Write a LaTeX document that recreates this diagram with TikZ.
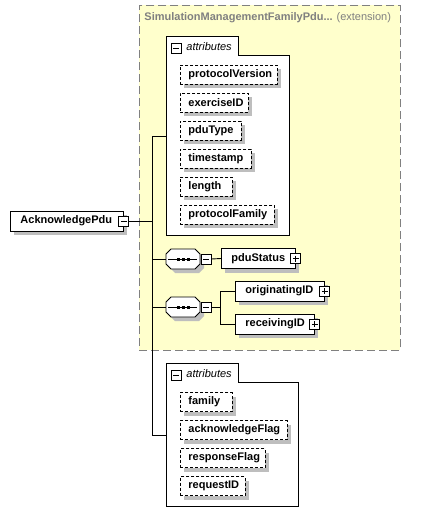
\documentclass[tikz,border=0pt]{standalone}
\usepackage{fontspec}
\setmainfont{Liberation Sans}
\usetikzlibrary{shadows}

\definecolor{extfill}{RGB}{255,255,204}
\definecolor{extline}{RGB}{128,128,128}
\definecolor{shadowgray}{RGB}{190,190,190}

\tikzset{
  boxshadow/.style={drop shadow={shadow xshift=4pt,shadow yshift=-4pt,fill=shadowgray,opacity=1}},
  elembox/.style={draw, fill=white, boxshadow, font=\fontsize{11}{13}\selectfont\bfseries,
    anchor=west, minimum height=20pt, inner xsep=10pt, inner ysep=0pt, align=left},
  attrbox/.style={elembox, dash pattern=on 3pt off 2pt, inner xsep=8pt, minimum height=19pt},
  signbox/.style={draw, fill=white, solid, minimum size=10pt, inner sep=0pt},
  minusbox/.style={signbox, path picture={
    \draw ([xshift=2pt]path picture bounding box.west) -- ([xshift=-2pt]path picture bounding box.east);}},
  plusbox/.style={signbox, path picture={
    \draw ([xshift=2pt]path picture bounding box.west) -- ([xshift=-2pt]path picture bounding box.east);
    \draw ([yshift=-2pt]path picture bounding box.north) -- ([yshift=2pt]path picture bounding box.south);}},
  seqbox/.style={minimum width=34pt, minimum height=20pt, inner sep=0pt, path picture={
    \draw ([xshift=2pt]path picture bounding box.west) -- ([xshift=-3pt]path picture bounding box.east);
    \foreach \d in {-5,0,5}
      \fill ([shift={(\d pt-1.5pt,-1.5pt)}]path picture bounding box.center) rectangle
            ([shift={(\d pt+1.5pt,1.5pt)}]path picture bounding box.center);}},
  octagon/.style={insert path={(-17,-5) -- (-12,-10) -- (12,-10) -- (17,-5) -- (17,5) -- (12,10) -- (-12,10) -- (-17,5) -- cycle}},
  extbox/.style={draw=extline, fill=extfill, dash pattern=on 8pt off 4pt, anchor=north west, inner sep=0pt},
  grouplabel/.style={anchor=west, inner sep=0pt, font=\fontsize{11}{13}\selectfont\itshape}
}

\begin{document}
\begin{tikzpicture}[x=1pt, y=-1pt, line width=0.9pt]
\useasboundingbox (0,0) rectangle (438,524);

% extension area
\node[extbox, minimum width=261pt, minimum height=345pt] (ext) at (139,5) {};
\node[anchor=west, inner sep=0pt, text=extline, font=\fontsize{11}{13}\selectfont\bfseries] (exttitle) at (144,18) {SimulationManagementFamilyPdu...};
\node[anchor=west, inner sep=0pt, text=extline, font=\fontsize{11}{13}\selectfont] (extnote) at ([xshift=3pt]exttitle.east) {(extension)};

% inherited attributes
\draw[fill=white] (166,36) -- (238,36) -- (238,55) -- (289,55) -- (289,235) -- (166,235) -- cycle;
\node[minusbox] (attroneminus) at (176,48) {};
\node[grouplabel] (attronelabel) at (186,47) {attributes};
\node[attrbox, text width=81pt] (protocolVersion) at (180,74.5) {protocolVersion};
\node[attrbox, text width=52pt] (exerciseID) at (180,102.5) {exerciseID};
\node[attrbox, text width=45pt] (pduType) at (180,130.5) {pduType};
\node[attrbox, text width=55pt] (timestamp) at (180,158.5) {timestamp};
\node[attrbox, text width=36pt] (length) at (180,186.5) {length};
\node[attrbox, text width=78pt] (protocolFamily) at (180,214.5) {protocolFamily};
\coordinate (attrone) at (166,136);

% root element
\node[elembox, text width=93pt] (AcknowledgePdu) at (10,221) {AcknowledgePdu};
\node[minusbox] (ackminus) at (AcknowledgePdu.east) {};

% first sequence
\begin{scope}[shift={(183,259)}]
  \fill[shadowgray, shift={(4,4)}] [octagon];
  \draw[fill=white] [octagon];
\end{scope}
\node[seqbox] (seqone) at (183,259) {};
\node[minusbox] (seqoneminus) at (206,259) {};
\node[elembox, text width=54pt] (pduStatus) at (221,258.5) {pduStatus};
\node[plusbox] (pduStatusplus) at (pduStatus.east) {};

% second sequence
\begin{scope}[shift={(183,307)}]
  \fill[shadowgray, shift={(4,4)}] [octagon];
  \draw[fill=white] [octagon];
\end{scope}
\node[seqbox] (seqtwo) at (183,307) {};
\node[minusbox] (seqtwominus) at (206,307) {};
\node[elembox, text width=69pt] (originatingID) at (235,291) {originatingID};
\node[plusbox] (originatingIDplus) at (originatingID.east) {};
\node[elembox, text width=59pt] (receivingID) at (235,324) {receivingID};
\node[plusbox] (receivingIDplus) at (receivingID.east) {};
\coordinate (seqtwofork) at (220,307);

% own attributes
\draw[fill=white] (166,363) -- (238,363) -- (238,382) -- (298,382) -- (298,506) -- (166,506) -- cycle;
\node[minusbox] (attrtwominus) at (176,375) {};
\node[grouplabel] (attrtwolabel) at (186,374) {attributes};
\node[attrbox, text width=36pt] (family) at (180,402) {family};
\node[attrbox, text width=91pt] (acknowledgeFlag) at (180,430) {acknowledgeFlag};
\node[attrbox, text width=69pt] (responseFlag) at (180,458) {responseFlag};
\node[attrbox, text width=49pt] (requestID) at (180,486) {requestID};
\coordinate (attrtwo) at (166,435);

% connectors
\coordinate (trunktop) at (152,136);
\coordinate (trunkbot) at (152,435);
\draw (trunktop) -- (trunkbot);
\draw (ackminus.east) -- (ackminus.east -| trunktop);
\draw (trunktop) -- (attrone);
\draw (trunkbot) -- (attrtwo);
\draw (seqone.west -| trunktop) -- (seqone.west);
\draw (seqtwo.west -| trunktop) -- (seqtwo.west);
\draw (seqoneminus.east) -- (pduStatus.west);
\draw (seqtwominus.east) -- (seqtwofork);
\draw (originatingID.west) -| (seqtwofork);
\draw (receivingID.west) -| (seqtwofork);

\end{tikzpicture}
\end{document}
